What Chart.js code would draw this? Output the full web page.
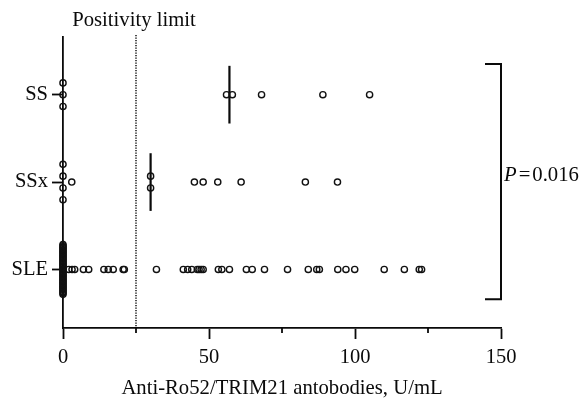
<!DOCTYPE html>
<html><head><meta charset="utf-8">
<script src="https://cdn.jsdelivr.net/npm/chart.js@4.4.0/dist/chart.umd.min.js"></script>
<style>html,body{margin:0;padding:0;background:#fff;}</style>
</head><body>
<canvas id="c" width="587" height="399"></canvas>
<script>
// ---- data ----
const categories = ['SS', 'SSx', 'SLE'];
const ssValues = [0, 0, 0, 56, 58, 68, 89, 105];
const ssxValues = [0, 0, 0, 0, 3, 30, 30, 45, 48, 53, 61, 83, 94];
const sleValues = [
  0, 0, 0, 0, 0, 0, 0, 0, 0, 0, 0, 0, 0, 0, 0, 0, 0, 0, 0,
  0, 0, 0, 0, 0, 0, 0, 0, 0, 0, 0, 0, 0, 0, 0, 0, 0, 0, 0,
  2.0, 3.1, 4.0, 7.0, 8.8, 14.0, 15.5, 17.2, 20.6, 21.0, 32.0,
  41.2, 42.7, 44.1, 46.0, 46.6, 47.3, 48.0, 53.2, 54.4, 57.0,
  62.8, 64.8, 69.0, 76.9, 84.0, 86.9, 87.8, 94.1, 96.9, 99.9,
  110.0, 116.9, 122.0, 122.8
];
const xMajorTicks = [0, 50, 100, 150];
const xMinorTicks = [25, 75, 125];
const positivityLimit = 25;
const positivityLabel = 'Positivity limit';
const xAxisTitle = 'Anti-Ro52/TRIM21 antobodies, U/mL';
const pValueLabel = '0.016';

// ---- layout helpers ----
const groups = [ssValues, ssxValues, sleValues];
const FONT = 'Liberation Serif';
const INK = '#0a0a0a';
const catPos = i => categories.length - i;   // SS top

function median(arr) {
  const s = [...arr].sort((a, b) => a - b);
  const m = Math.floor(s.length / 2);
  return s.length % 2 ? s[m] : (s[m - 1] + s[m]) / 2;
}
// vertical stacking of identical values (column scatter)
function swarm(values, yc) {
  const counts = {};
  values.forEach(v => counts[v] = (counts[v] || 0) + 1);
  const seen = {};
  const baseStep = 0.135, maxHalf = 0.285;
  return values.map(v => {
    const n = counts[v];
    const i = seen[v] = (seen[v] === undefined ? 0 : seen[v] + 1);
    const step = n > 1 ? Math.min(baseStep, 2 * maxHalf / (n - 1)) : 0;
    return { x: v, y: yc + (i - (n - 1) / 2) * step };
  });
}

const datasets = [];
groups.forEach((vals, gi) => {
  datasets.push({
    type: 'scatter',
    data: swarm(vals, catPos(gi)),
    pointRadius: 3.1,
    pointBorderWidth: 1.4,
    borderColor: '#111',
    backgroundColor: 'rgba(0,0,0,0)',
    pointHoverRadius: 3.1,
    clip: false
  });
  const md = median(vals);
  datasets.push({
    type: 'line',
    data: [{ x: md, y: catPos(gi) - 0.33 }, { x: md, y: catPos(gi) + 0.33 }],
    borderColor: INK,
    borderWidth: 2.2,
    pointRadius: 0,
    fill: false,
    clip: false
  });
});

const annotations = {
  id: 'annot',
  afterDraw(chart) {
    const { ctx, chartArea, scales: { x, y } } = chart;
    ctx.save();
    // minor x ticks
    ctx.strokeStyle = INK; ctx.lineWidth = 1.8;
    xMinorTicks.forEach(v => {
      const px = x.getPixelForValue(v);
      ctx.beginPath(); ctx.moveTo(px, chartArea.bottom); ctx.lineTo(px, chartArea.bottom + 5); ctx.stroke();
    });
    // positivity limit dotted line
    const lx = x.getPixelForValue(positivityLimit);
    ctx.setLineDash([1.3, 1.2]); ctx.lineWidth = 1.4; ctx.strokeStyle = '#000';
    ctx.beginPath(); ctx.moveTo(lx, chartArea.top - 2); ctx.lineTo(lx, chartArea.bottom); ctx.stroke();
    ctx.setLineDash([]);
    ctx.fillStyle = INK;
    ctx.font = '20.7px "' + FONT + '"';
    ctx.textAlign = 'center'; ctx.textBaseline = 'alphabetic';
    ctx.fillText(positivityLabel, lx - 2, chartArea.top - 11);
    // bracket
    const bx = x.getPixelForValue(150);
    const bt = y.getPixelForValue(3.35), bb = y.getPixelForValue(0.66);
    ctx.lineWidth = 2; ctx.strokeStyle = INK;
    ctx.beginPath();
    ctx.moveTo(bx - 16, bt); ctx.lineTo(bx, bt); ctx.lineTo(bx, bb); ctx.lineTo(bx - 16, bb);
    ctx.stroke();
    // P value
    const ty = (bt + bb) / 2 - 1;
    ctx.textAlign = 'left';
    ctx.font = 'italic 20.7px "' + FONT + '"';
    let tx = bx + 3;
    ctx.fillText('P', tx, ty);
    tx += ctx.measureText('P').width + 2;
    ctx.font = '20.7px "' + FONT + '"';
    ctx.fillText('=', tx, ty);
    tx += ctx.measureText('=').width + 2;
    ctx.fillText(pValueLabel, tx, ty);
    ctx.restore();
  }
};

new Chart(document.getElementById('c'), {
  data: { datasets },
  options: {
    responsive: false,
    animation: false,
    devicePixelRatio: 1,
    layout: { padding: { top: 37, right: 86, left: 0, bottom: 0 } },
    plugins: { legend: { display: false }, tooltip: { enabled: false } },
    scales: {
      x: {
        type: 'linear', min: 0, max: 150,
        afterBuildTicks: s => { s.ticks = xMajorTicks.map(v => ({ value: v })); },
        afterFit: s => { s.height = 71; },
        ticks: { color: INK, font: { family: FONT, size: 20.5 }, padding: 6, maxRotation: 0 },
        grid: { drawOnChartArea: false, drawTicks: true, tickLength: 11, tickWidth: 1.8, tickColor: INK },
        border: { display: true, color: INK, width: 1.8 },
        title: { display: true, text: xAxisTitle, color: INK, font: { family: FONT, size: 20.7 }, padding: { top: 0, bottom: -2 } }
      },
      y: {
        type: 'linear', min: 0.33, max: 3.66,
        afterBuildTicks: s => { s.ticks = categories.map((c, i) => ({ value: catPos(i) })); },
        afterFit: s => { s.width = 63; },
        ticks: {
          color: INK, font: { family: FONT, size: 20.5 }, padding: 4,
          callback: v => categories[categories.length - v]
        },
        grid: { drawOnChartArea: false, drawTicks: true, tickLength: 11, tickWidth: 1.8, tickColor: INK },
        border: { display: true, color: INK, width: 1.8 }
      }
    }
  },
  plugins: [annotations]
});
</script>
</body></html>
